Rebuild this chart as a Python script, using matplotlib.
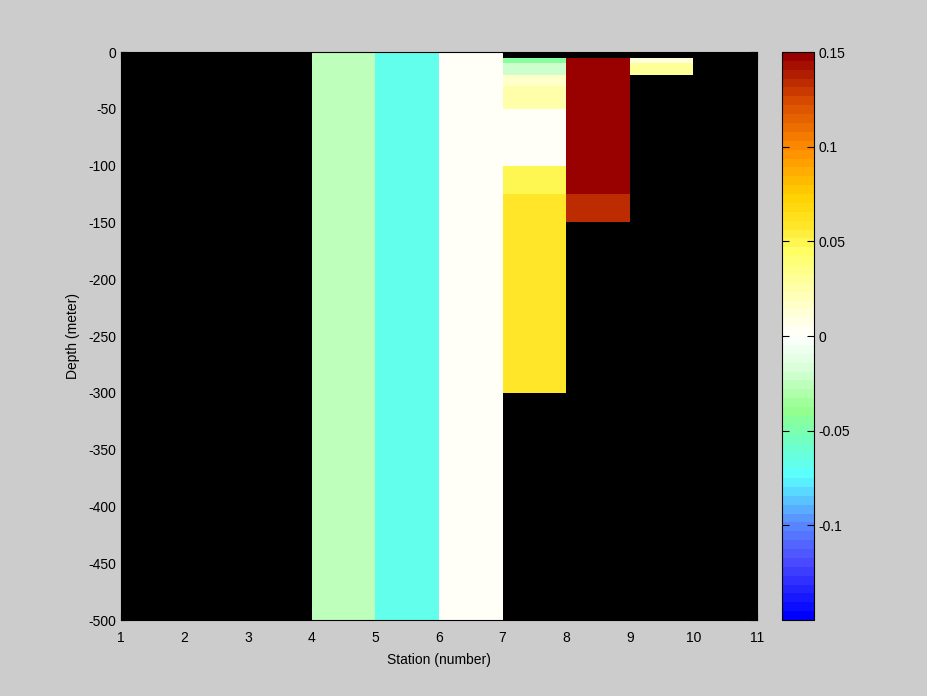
import numpy as np
import matplotlib
matplotlib.use("Agg")
import matplotlib.pyplot as plt
from matplotlib.colors import LinearSegmentedColormap

plt.rcParams['font.family'] = ['Liberation Sans', 'DejaVu Sans']
plt.rcParams['axes.unicode_minus'] = False

# ---- data ----
stations = [1, 2, 3, 4, 5, 6, 7, 8, 9, 10, 11]           # cell edges (x)
depths = [0, -5, -10, -20, -30, -50, -100, -125, -150, -300, -500]  # cell edges (y)
nan = np.nan
# values for each station cell (column), from top (0..-5) to bottom (-300..-500)
st1 = [nan] * 10
st2 = [nan] * 10
st3 = [nan] * 10
st4 = [-0.025] * 10
st5 = [-0.07] * 10
st6 = [0.004] * 10
st7 = [nan, -0.045, -0.022, 0.015, 0.026, 0.002, 0.05, 0.057, 0.057, nan]
st8 = [nan, 0.149, 0.149, 0.149, 0.149, 0.149, 0.149, 0.132, nan, nan]
st9 = [nan, 0.01, 0.03, nan, nan, nan, nan, nan, nan, nan]
st10 = [nan] * 10
xticks = [1, 2, 3, 4, 5, 6, 7, 8, 9, 10, 11]
yticks = [0, -50, -100, -150, -200, -250, -300, -350, -400, -450, -500]
cticks = [-0.1, -0.05, 0, 0.05, 0.1, 0.15]
cticklabels = ['-0.1', '-0.05', '0', '0.05', '0.1', '0.15']
vmin, vmax = -0.15, 0.15

C = np.array([st1, st2, st3, st4, st5, st6, st7, st8, st9, st10]).T
C = np.ma.masked_invalid(C)

anchors = [
    (-0.15, (0.0, 0.0, 1.0)),
    (-0.12, (0.3, 0.3, 1.0)),
    (-0.10, (0.35, 0.55, 1.0)),
    (-0.075, (0.35, 1.0, 1.0)),
    (-0.055, (0.45, 1.0, 0.75)),
    (-0.04, (0.58, 1.0, 0.55)),
    (-0.02, (0.82, 1.0, 0.82)),
    (0.0, (1.0, 1.0, 1.0)),
    (0.02, (1.0, 1.0, 0.75)),
    (0.045, (1.0, 1.0, 0.4)),
    (0.06, (1.0, 0.9, 0.15)),
    (0.075, (1.0, 0.82, 0.0)),
    (0.10, (1.0, 0.55, 0.0)),
    (0.125, (0.85, 0.3, 0.0)),
    (0.15, (0.6, 0.0, 0.0)),
]
cmap = LinearSegmentedColormap.from_list(
    'custom', [((v - vmin) / (vmax - vmin), c) for v, c in anchors], N=64)

fig = plt.figure(figsize=(9.28, 6.96), dpi=100, facecolor=(0.8, 0.8, 0.8))
W, H = 928, 696
ax = fig.add_axes([121 / W, 1 - 620 / H, (757 - 121) / W, (620 - 52) / H])
ax.set_facecolor('black')
ax.set_axisbelow(True)
mesh = ax.pcolormesh(stations, depths, C, cmap=cmap, vmin=vmin, vmax=vmax,
                     antialiased=False, zorder=2)
ax.set_xlim(1, 11)
ax.set_ylim(-500, 0)
ax.set_xticks(xticks)
ax.set_yticks(yticks)
ax.tick_params(direction='in', length=5, labelsize=10, top=True, right=True,
               color='black')
ax.tick_params(axis='x', pad=8)
ax.set_xlabel('Station (number)', fontsize=10, labelpad=6)
ax.set_ylabel('Depth (meter)', fontsize=10, labelpad=6)
for s in ax.spines.values():
    s.set_color('black')

cax = fig.add_axes([782 / W, 1 - 620 / H, (814 - 782) / W, (620 - 52) / H])
cb = fig.colorbar(mesh, cax=cax)
cb.set_ticks(cticks)
cb.set_ticklabels(cticklabels)
cax.tick_params(direction='in', length=5, labelsize=10, left=True, right=True,
                color='black')
cb.outline.set_edgecolor('black')

fig.savefig('out.png', dpi=100, facecolor=fig.get_facecolor())
